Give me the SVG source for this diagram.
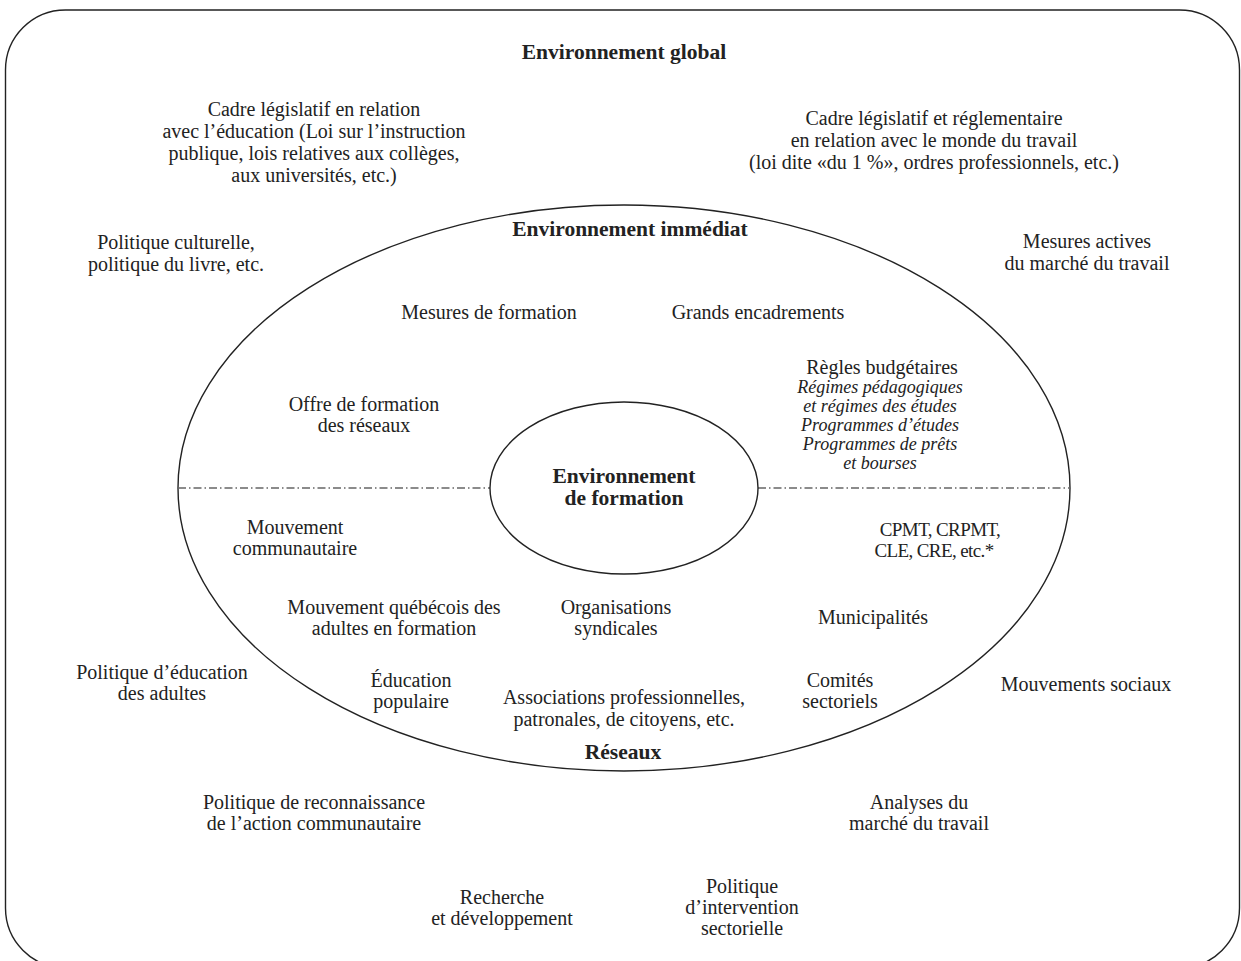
<svg xmlns="http://www.w3.org/2000/svg" width="1241" height="961" viewBox="0 0 1241 961">
<style>
  text { font-family: "Liberation Serif", "Times New Roman", serif; font-size: 20px; fill: #222; text-anchor: middle; }
  .b { font-weight: bold; font-size: 21.5px; }
  .i { font-style: italic; font-size: 18px; }
  .t { font-size: 19px; letter-spacing: -0.6px; }
  .shape { fill: none; stroke: #222; stroke-width: 1.4; }
  .axis { stroke: #666; stroke-width: 1.5; stroke-dasharray: 8 3 1.5 3; fill: none; }
</style>
<rect width="1241" height="961" fill="#fff"/>
<g id="outer-frame">
  <rect class="shape" x="5.5" y="10" width="1234" height="958" rx="60" ry="60"/>
  <text class="b" x="624" y="59">Environnement global</text>
</g>
<g id="immediate-ellipse">
  <ellipse class="shape" cx="624" cy="488" rx="446" ry="283"/>
  <text class="b" x="630" y="236">Environnement immédiat</text>
  <text class="b" x="623" y="759">Réseaux</text>
</g>
<g id="connectors">
  <line class="axis" x1="178" y1="488" x2="490" y2="488"/>
  <line class="axis" x1="758" y1="488" x2="1070" y2="488"/>
</g>
<g id="formation-ellipse">
  <ellipse class="shape" cx="624" cy="488" rx="134" ry="86"/>
  <text class="b" x="624" y="483">Environnement</text>
  <text class="b" x="624" y="505">de formation</text>
</g>
<g id="cadre-education">
  <text x="314" y="116">Cadre législatif en relation</text>
  <text x="314" y="138">avec l’éducation (Loi sur l’instruction</text>
  <text x="314" y="160">publique, lois relatives aux collèges,</text>
  <text x="314" y="182">aux universités, etc.)</text>
</g>
<g id="cadre-travail">
  <text x="934" y="125">Cadre législatif et réglementaire</text>
  <text x="934" y="147">en relation avec le monde du travail</text>
  <text x="934" y="169">(loi dite «du 1 %», ordres professionnels, etc.)</text>
</g>
<g id="politique-culturelle">
  <text x="176" y="249">Politique culturelle,</text>
  <text x="176" y="271">politique du livre, etc.</text>
</g>
<g id="mesures-actives">
  <text x="1087" y="248">Mesures actives</text>
  <text x="1087" y="270">du marché du travail</text>
</g>
<g id="mesures-formation"><text x="489" y="319">Mesures de formation</text></g>
<g id="grands-encadrements"><text x="758" y="319">Grands encadrements</text></g>
<g id="regles-budgetaires">
  <text x="882" y="374">Règles budgétaires</text>
  <text class="i" x="880" y="393">Régimes pédagogiques</text>
  <text class="i" x="880" y="412">et régimes des études</text>
  <text class="i" x="880" y="431">Programmes d’études</text>
  <text class="i" x="880" y="450">Programmes de prêts</text>
  <text class="i" x="880" y="469">et bourses</text>
</g>
<g id="offre-formation">
  <text x="364" y="411">Offre de formation</text>
  <text x="364" y="432">des réseaux</text>
</g>
<g id="mouvement-communautaire">
  <text x="295" y="534">Mouvement</text>
  <text x="295" y="555">communautaire</text>
</g>
<g id="cpmt">
  <text class="t" x="940" y="536">CPMT, CRPMT,</text>
  <text class="t" x="934" y="557">CLE, CRE, etc.*</text>
</g>
<g id="mouvement-quebecois">
  <text x="394" y="614">Mouvement québécois des</text>
  <text x="394" y="635">adultes en formation</text>
</g>
<g id="organisations-syndicales">
  <text x="616" y="614">Organisations</text>
  <text x="616" y="635">syndicales</text>
</g>
<g id="municipalites"><text x="873" y="624">Municipalités</text></g>
<g id="politique-education-adultes">
  <text x="162" y="679">Politique d’éducation</text>
  <text x="162" y="700">des adultes</text>
</g>
<g id="education-populaire">
  <text x="411" y="687">Éducation</text>
  <text x="411" y="708">populaire</text>
</g>
<g id="associations">
  <text x="624" y="704">Associations professionnelles,</text>
  <text x="624" y="726">patronales, de citoyens, etc.</text>
</g>
<g id="comites-sectoriels">
  <text x="840" y="687">Comités</text>
  <text x="840" y="708">sectoriels</text>
</g>
<g id="mouvements-sociaux"><text x="1086" y="691">Mouvements sociaux</text></g>
<g id="politique-reconnaissance">
  <text x="314" y="809">Politique de reconnaissance</text>
  <text x="314" y="830">de l’action communautaire</text>
</g>
<g id="analyses-marche">
  <text x="919" y="809">Analyses du</text>
  <text x="919" y="830">marché du travail</text>
</g>
<g id="recherche">
  <text x="502" y="904">Recherche</text>
  <text x="502" y="925">et développement</text>
</g>
<g id="politique-intervention">
  <text x="742" y="893">Politique</text>
  <text x="742" y="914">d’intervention</text>
  <text x="742" y="935">sectorielle</text>
</g>
</svg>
